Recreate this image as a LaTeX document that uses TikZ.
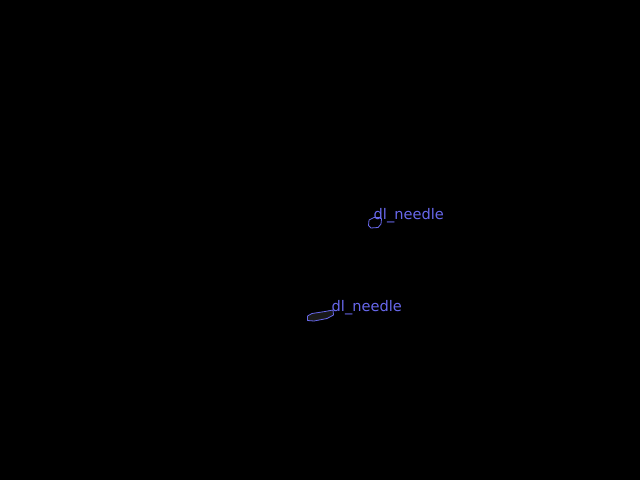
\documentclass[tikz,border=0pt]{standalone}
\usepackage{fontspec}
\setmainfont{DejaVu Sans}
\definecolor{lbl}{RGB}{104,104,236}
\definecolor{blobfill}{RGB}{26,26,26}
\tikzset{
  blob/.style={draw=lbl, line width=0.8pt, line join=round},
  tag/.style={text=lbl, font=\fontsize{14.6}{16}\selectfont, inner sep=0pt, anchor=base west}
}
\begin{document}
\begin{tikzpicture}[x=1pt,y=-1pt]
\fill[black] (0,0) rectangle (640,480);
\useasboundingbox (0,0) rectangle (640,480);
% first needle
\draw[blob] (369,220) -- (374,217.5) -- (380,217.5) -- (381.5,219) -- (381,224) -- (378,227.5) -- (371,228) -- (368.5,225.5) -- cycle;
\node[tag] (n1) at (373.5,219) {dl\_needle};
% second needle
\draw[blob, fill=blobfill] (307.5,316) -- (312,313.5) -- (325,311.5) -- (333,310) -- (333.5,315) -- (327,318.5) -- (314,321) -- (307.5,320.5) -- cycle;
\node[tag] (n2) at (331.5,311) {dl\_needle};
\end{tikzpicture}
\end{document}
